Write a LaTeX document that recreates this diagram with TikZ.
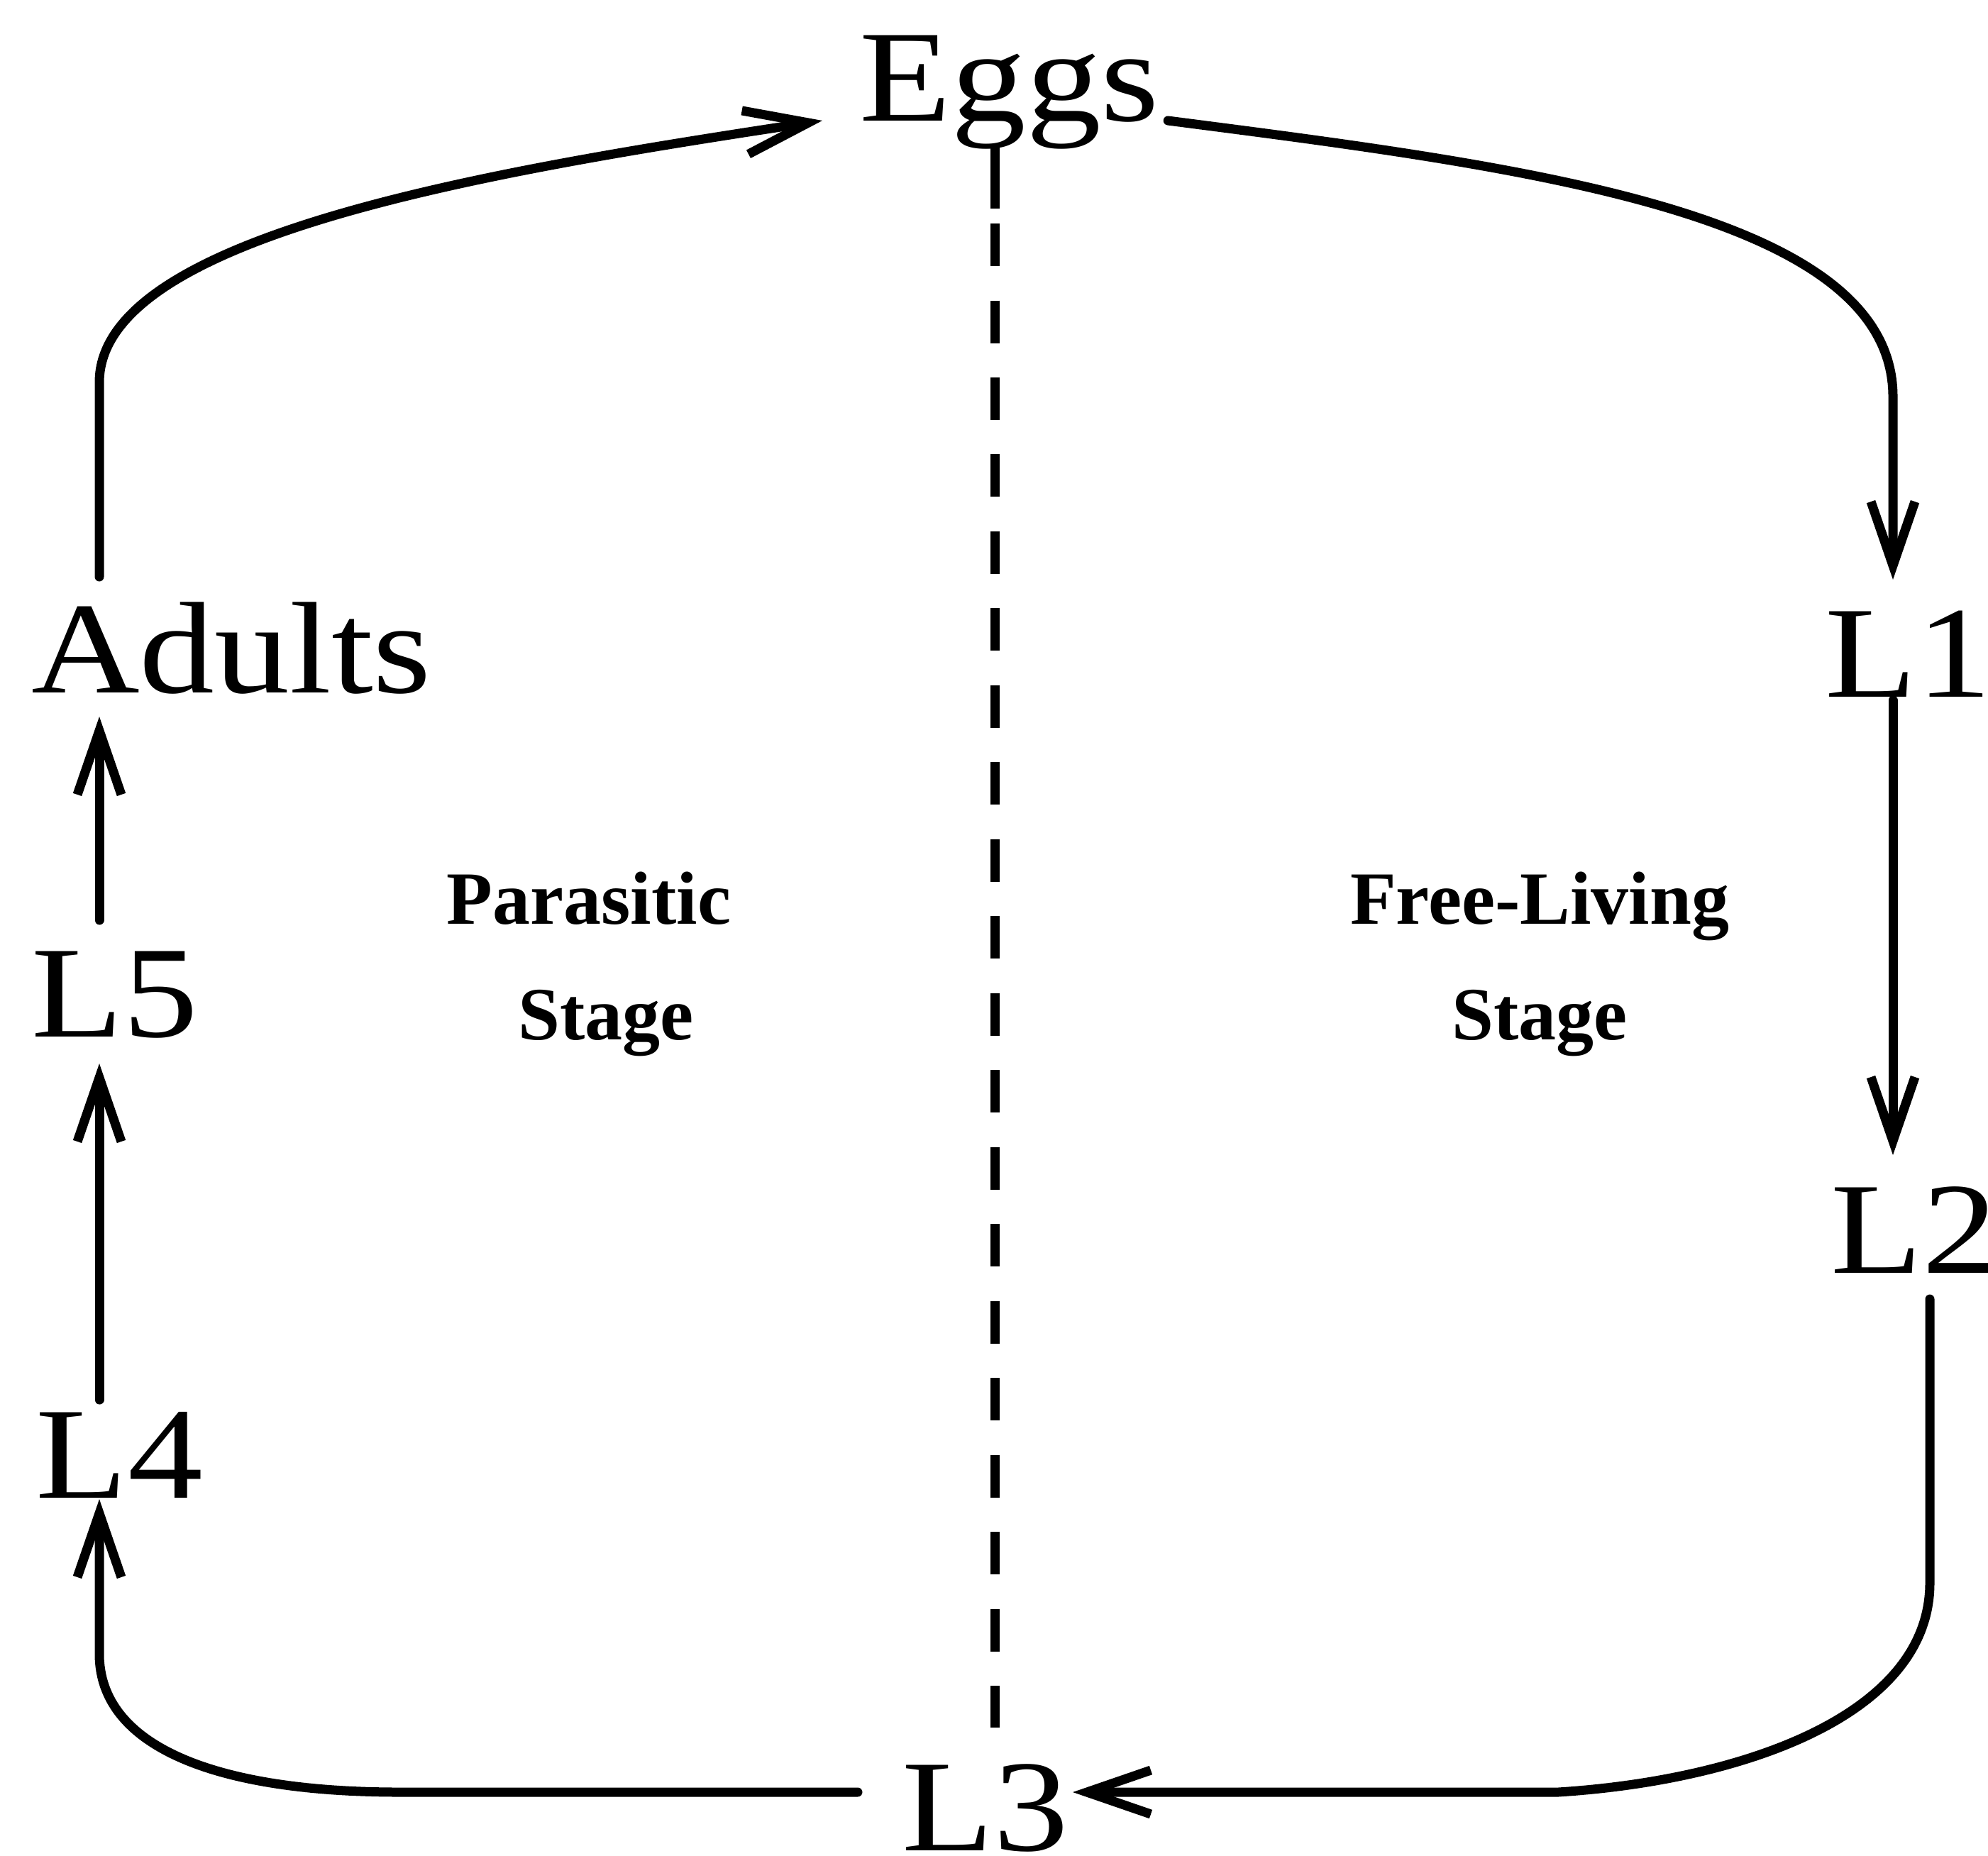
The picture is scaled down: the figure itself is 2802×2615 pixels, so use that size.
\documentclass[tikz,border=0pt]{standalone}
\usepackage{fontspec}
\setmainfont{Liberation Serif}
\newfontfamily\labfont[FakeStretch=1.15]{Liberation Serif}
\usetikzlibrary{arrows.meta,calc}
\begin{document}
\begin{tikzpicture}[x=0.1pt,y=-0.1pt,
  stagelab/.style={inner sep=0pt, anchor=base west,
    font=\labfont\fontsize{18.4pt}{20pt}\selectfont,
    text height=12.2pt, text depth=0pt},
  note/.style={inner sep=0pt, anchor=base,
    font=\bfseries\fontsize{10.6pt}{12pt}\selectfont},
  arr/.style={line width=1.3pt, line cap=round,
    -{Straight Barb[length=9pt,width=6.2pt]}},
  divider/.style={line width=1.3pt, dash pattern=on 6pt off 4.85pt}]
\useasboundingbox (0,0) rectangle (2802,2615);

% stage nodes
\node[stagelab] (eggs)   at (1209,170)  {Eggs};
\node[stagelab] (adults) at (42,976)    {Adults};
\node[stagelab] (l5)     at (42,1461)   {L5};
\node[stagelab] (l4)     at (49,2111)   {L4};
\node[stagelab] (l3)     at (1269,2608) {L3};
\node[stagelab] (l2)     at (2578,1794) {L2};
\node[stagelab] (l1)     at (2570,982)  {L1};

% region labels
\node[note] (para)  at (830,1302)  {Parasitic};
\node[note] (parst) at (854,1465)  {Stage};
\node[note] (free)  at (2170,1302) {Free-Living};
\node[note] (frst)  at (2170,1465) {Stage};

% helper coordinates
\coordinate (colL)  at (140,0);
\coordinate (colR)  at (2668,0);
\coordinate (colR2) at (2720,0);
\coordinate (rowB)  at (0,2526);
\coordinate (divtop) at (1402,205);
\coordinate (divmid) at (1402,294);
\coordinate (divbot) at (1402,2435);

% dashed divider
\draw[line width=1.3pt] (divtop) -- (divmid);
\draw[divider] ([yshift=-2.1pt]divmid) -- (divbot);

% Adults -> Eggs
\draw[arr, shorten <=3.9pt] (colL |- adults.north) -- (140,539)
  .. controls (140,330) and (700,240) .. ([xshift=-5pt]eggs.base west);

% Eggs -> L1
\draw[arr, shorten >=4.1pt] ([xshift=1pt]eggs.base east)
  .. controls (2150,235) and (2668,300) .. (2668,559) -- (colR |- l1.north);

% L1 -> L2
\draw[arr, shorten <=0.3pt, shorten >=4.2pt] (colR |- l1.south) -- (colR |- l2.north);

% L2 -> L3
\draw[arr, shorten <=3.5pt] (colR2 |- l2.south) -- (2720,2231)
  .. controls (2720,2420) and (2450,2510) .. (2196,2526)
  -- ([xshift=0.4pt]rowB -| l3.east);

% L3 -> L4
\draw[arr] ([xshift=-6pt]rowB -| l3.west) -- (564,2526)
  .. controls (300,2526) and (140,2460) .. (140,2331)
  -- (colL |- l4.south);

% L4 -> L5
\draw[arr, shorten <=1.4pt, shorten >=3.6pt] (colL |- l4.north) -- (colL |- l5.south);

% L5 -> Adults
\draw[arr, shorten <=4pt, shorten >=3.2pt] (colL |- l5.north) -- (colL |- adults.south);
\end{tikzpicture}
\end{document}
